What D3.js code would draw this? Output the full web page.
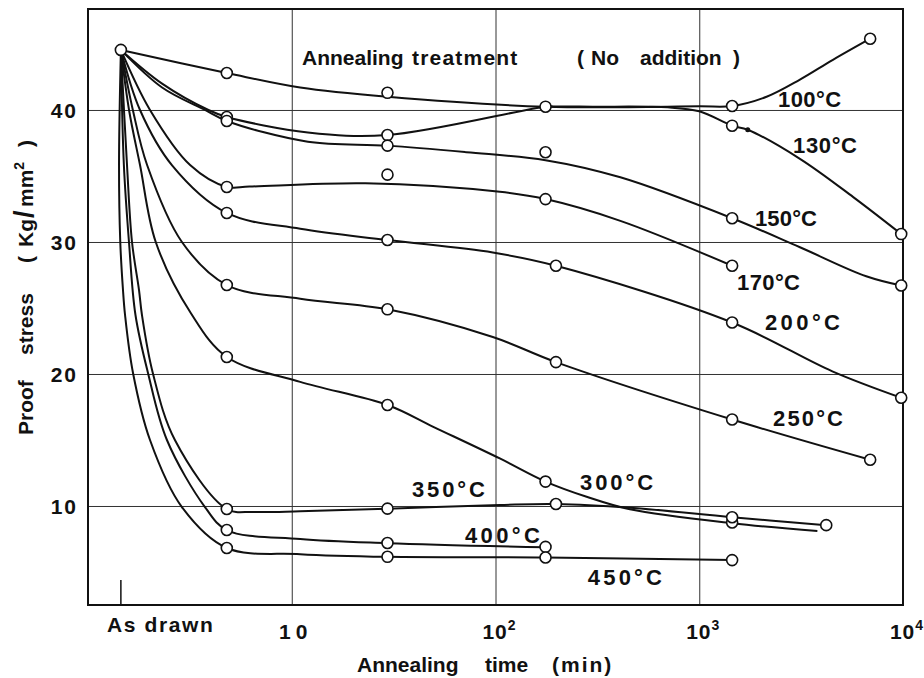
<!DOCTYPE html>
<html>
<head>
<meta charset="utf-8">
<script src="https://cdn.jsdelivr.net/npm/d3@7"></script>
<style>
  body { margin: 0; background: #fff; }
  text { font-family: "Liberation Sans", Arial, sans-serif; font-weight: bold; fill: #111; }
</style>
</head>
<body>
<div id="chart"></div>
<script>
// time axis position used for the "As drawn" state, and its stress
var asDrawnT = 1.45;
var asDrawnV = 44.55;

var xTicks = [10, 100, 1000, 10000];
var xTickExp = ["", "2", "3", "4"];
var yTicks = [10, 20, 30, 40];

var temps = ["100°C", "130°C", "150°C", "170°C", "200°C", "250°C", "300°C", "350°C", "400°C", "450°C"];

// measured points (open circles), [time min, stress]
var m100 = [[4.8, 42.8], [29.5, 41.3], [176, 40.25], [1450, 40.3], [6900, 45.4]];
var m130 = [[4.8, 39.47], [29.5, 38.1], [1450, 38.81], [9800, 30.6]];
var m150 = [[4.8, 39.17], [29.5, 37.3], [176, 36.8], [1450, 31.8], [9800, 26.7]];
var m170 = [[4.8, 34.17], [29.5, 35.1], [176, 33.25], [1450, 28.2]];
var m200 = [[4.8, 32.2], [29.5, 30.15], [198, 28.2], [1450, 23.9], [9800, 18.2]];
var m250 = [[4.8, 26.74], [29.5, 24.9], [198, 20.9], [1450, 16.55], [6900, 13.5]];
var m300 = [[4.8, 21.29], [29.5, 17.65], [176, 11.85], [1450, 8.75]];
var m350 = [[4.8, 9.77], [29.5, 9.8], [198, 10.15], [1450, 9.15], [4200, 8.55]];
var m400 = [[4.8, 8.18], [29.5, 7.2], [176, 6.9]];
var m450 = [[4.8, 6.82], [29.5, 6.15], [176, 6.1], [1450, 5.9]];
var dot130 = [[1730, 38.5]];

// hand drawn curves
var c100 = [[asDrawnT, asDrawnV], [4.8, 42.8], [11, 41.7], [29.5, 41.0], [176, 40.25], [1000, 40.28], [1450, 40.3], [2140, 41.0], [3120, 42.3], [4530, 43.8], [6900, 45.4]];
var c130 = [[asDrawnT, asDrawnV], [2.31, 42.0], [3.9, 40.0], [4.8, 39.47], [12, 38.3], [29.5, 38.1], [176, 40.25], [200, 40.27], [300, 40.25], [700, 40.2], [1000, 39.9], [1450, 38.81], [1730, 38.5], [3120, 36.3], [5700, 33.4], [9800, 30.6]];
var c150 = [[asDrawnT, asDrawnV], [2.31, 41.7], [3.75, 40.0], [4.8, 39.17], [12, 37.6], [29.5, 37.3], [72, 36.8], [176, 36.2], [410, 34.9], [1450, 31.8], [3120, 29.6], [6600, 27.4], [9800, 26.7]];
var c170 = [[asDrawnT, asDrawnV], [2.015, 40.0], [3.17, 35.83], [4.8, 34.17], [6.2, 34.2], [23, 34.45], [105, 33.8], [176, 33.25], [410, 31.6], [1450, 28.2]];
var c200 = [[asDrawnT, asDrawnV], [1.8, 40.0], [2.58, 35.83], [4.8, 32.2], [11, 31.0], [29.5, 30.15], [97, 29.2], [198, 28.2], [1450, 23.9], [4500, 20.2], [9800, 18.2]];
var c250 = [[asDrawnT, asDrawnV], [1.66, 40.0], [1.95, 35.83], [2.89, 30.0], [4.8, 26.74], [11, 25.7], [29.5, 24.9], [97, 22.8], [198, 20.9], [1450, 16.55], [6900, 13.5]];
var c300 = [[asDrawnT, asDrawnV], [1.59, 40.0], [1.8, 35.83], [2.15, 30.0], [3.2, 24.6], [4.8, 21.29], [11, 19.4], [29.5, 17.65], [49.5, 16.0], [105, 13.6], [176, 11.85], [280, 10.7], [457, 9.75], [1450, 8.69], [3800, 8.1]];
var c350 = [[asDrawnT, asDrawnV], [1.554, 35.83], [1.644, 30.0], [1.78, 26.36], [1.84, 24.47], [2.08, 20.08], [2.67, 15.0], [4.8, 9.77], [6.5, 9.55], [11, 9.6], [29.5, 9.8], [105, 10.08], [198, 10.15], [457, 9.87], [1450, 9.15], [4200, 8.55]];
var c400 = [[asDrawnT, asDrawnV], [1.5, 35.83], [1.589, 30.0], [1.71, 24.47], [1.97, 20.08], [2.44, 15.0], [3.75, 9.92], [4.8, 8.18], [11, 7.5], [29.5, 7.18], [176, 6.87]];
var c450 = [[asDrawnT, asDrawnV], [1.42, 35.83], [1.44, 30.0], [1.485, 26.36], [1.52, 24.47], [1.663, 20.08], [2.015, 15.0], [2.89, 9.92], [4.8, 6.82], [11, 6.35], [29.5, 6.15], [176, 6.1], [1450, 5.9]];

// where each temperature label sits, [time min, stress] of its left baseline
var labelAt = [[2436, 40.23], [2885, 36.77], [1877, 31.21], [1532, 26.36], [2102, 23.33], [2301, 16.06], [260, 11.21], [38.9, 10.68], [70.8, 7.2], [284, 4.02]];
var labelW = [63, 64, 62, 63, 75, 70, 73, 73, 75, 74];

var markers = [m100, m130, m150, m170, m200, m250, m300, m350, m400, m450];
var curves = [c100, c130, c150, c170, c200, c250, c300, c350, c400, c450];

var width = 924,
  height = 678;
var margin = { top: 9, right: 21, bottom: 73, left: 88 };

var svg = d3
  .select("#chart")
  .append("svg")
  .attr("width", width)
  .attr("height", height);

var x = d3
  .scaleLog()
  .domain([1, 10000])
  .range([margin.left, width - margin.right]);
var y = d3
  .scaleLinear()
  .domain([2.5, 47.65])
  .range([height - margin.bottom, margin.top]);

var plotW = width - margin.left - margin.right;
var plotH = height - margin.top - margin.bottom;

// grid lines
var gx = svg
  .append("g")
  .attr("transform", "translate(0," + (height - margin.bottom) + ")")
  .call(d3.axisBottom(x).tickValues(xTicks).tickSize(-plotH).tickFormat(""));
var gy = svg
  .append("g")
  .attr("transform", "translate(" + margin.left + ",0)")
  .call(d3.axisLeft(y).tickValues(yTicks).tickSize(-plotW).tickPadding(10));
svg.selectAll(".domain").remove();
svg.selectAll(".tick line").attr("stroke", "#333").attr("stroke-width", 1);

gy.selectAll(".tick text")
  .style("font-size", "21px")
  .style("letter-spacing", "2px")
  .attr("dy", "0.36em");

// x tick labels with exponents
xTicks.forEach(function(v, i) {
  var t = svg
    .append("text")
    .attr("x", x(v) + 4)
    .attr("y", height - margin.bottom + 34)
    .attr("text-anchor", "middle")
    .style("font-size", "21px")
    .style("letter-spacing", i == 0 ? "5px" : "1px");
  t.append("tspan").text("10");
  if (xTickExp[i])
    t.append("tspan")
      .attr("dy", -9)
      .style("font-size", "14px")
      .text(xTickExp[i]);
});

// "As drawn" tick and label
svg
  .append("line")
  .attr("x1", x(asDrawnT))
  .attr("x2", x(asDrawnT))
  .attr("y1", height - margin.bottom)
  .attr("y2", height - margin.bottom - 25)
  .attr("stroke", "#111")
  .attr("stroke-width", 1.5);
svg
  .append("text")
  .attr("x", x(asDrawnT) - 14)
  .attr("y", height - margin.bottom + 27)
  .style("font-size", "21px")
  .attr("textLength", 106)
  .attr("lengthAdjust", "spacing")
  .text("As drawn");

// frame
svg
  .append("rect")
  .attr("x", margin.left)
  .attr("y", margin.top)
  .attr("width", plotW)
  .attr("height", plotH)
  .attr("fill", "none")
  .attr("stroke", "#111")
  .attr("stroke-width", 2);

// curves
var lineGen = d3
  .line()
  .x(function(d) { return x(d[0]); })
  .y(function(d) { return y(d[1]); })
  .curve(d3.curveCatmullRom.alpha(0.5));

svg
  .append("g")
  .selectAll("path")
  .data(curves)
  .enter()
  .append("path")
  .attr("d", lineGen)
  .attr("fill", "none")
  .attr("stroke", "#111")
  .attr("stroke-width", 2);

// open circles
var allPts = [[asDrawnT, asDrawnV]];
markers.forEach(function(m) { allPts = allPts.concat(m); });
svg
  .append("g")
  .selectAll("circle")
  .data(allPts)
  .enter()
  .append("circle")
  .attr("cx", function(d) { return x(d[0]); })
  .attr("cy", function(d) { return y(d[1]); })
  .attr("r", 5.5)
  .attr("fill", "#fff")
  .attr("stroke", "#111")
  .attr("stroke-width", 1.6);

svg
  .selectAll(".dot")
  .data(dot130)
  .enter()
  .append("circle")
  .attr("class", "dot")
  .attr("cx", function(d) { return x(d[0]); })
  .attr("cy", function(d) { return y(d[1]); })
  .attr("r", 2.5)
  .attr("fill", "#111");

// temperature labels
svg
  .append("g")
  .selectAll("text")
  .data(temps)
  .enter()
  .append("text")
  .attr("x", function(d, i) { return x(labelAt[i][0]); })
  .attr("y", function(d, i) { return y(labelAt[i][1]); })
  .style("font-size", "22px")
  .attr("textLength", function(d, i) { return labelW[i]; })
  .attr("lengthAdjust", "spacing")
  .text(function(d) { return d; });

// title inside the plot
var title = svg
  .append("text")
  .attr("y", 65)
  .style("font-size", "21px");
title.append("tspan").attr("x", 302).text("Annealing");
title.append("tspan").attr("x", 412).style("letter-spacing", "1.2px").text("treatment");
title.append("tspan").attr("x", 577).text("(");
title.append("tspan").attr("x", 591).text("No");
title.append("tspan").attr("x", 640).text("addition");
title.append("tspan").attr("x", 733).text(")");

// x axis title
var xt = svg
  .append("text")
  .attr("y", 672)
  .style("font-size", "21px");
xt.append("tspan").attr("x", 357).text("Annealing");
xt.append("tspan").attr("x", 485).text("time");
xt.append("tspan").attr("x", 552).style("letter-spacing", "2px").text("(min)");

// y axis title
var yt = svg
  .append("text")
  .attr("transform", "translate(33,435) rotate(-90)")
  .style("font-size", "21px");
yt.append("tspan").attr("x", 0).text("Proof");
yt.append("tspan").attr("x", 80).text("stress");
yt.append("tspan").attr("x", 172).text("(");
yt.append("tspan").attr("x", 188).text("Kg");
yt.append("tspan").attr("x", 217).style("font-size", "27px").text("/");
yt.append("tspan").attr("x", 228).text("mm");
yt.append("tspan").attr("dy", -9).style("font-size", "14px").text("2");
yt.append("tspan").attr("x", 288).attr("dy", 9).text(")");
</script>
</body>
</html>
